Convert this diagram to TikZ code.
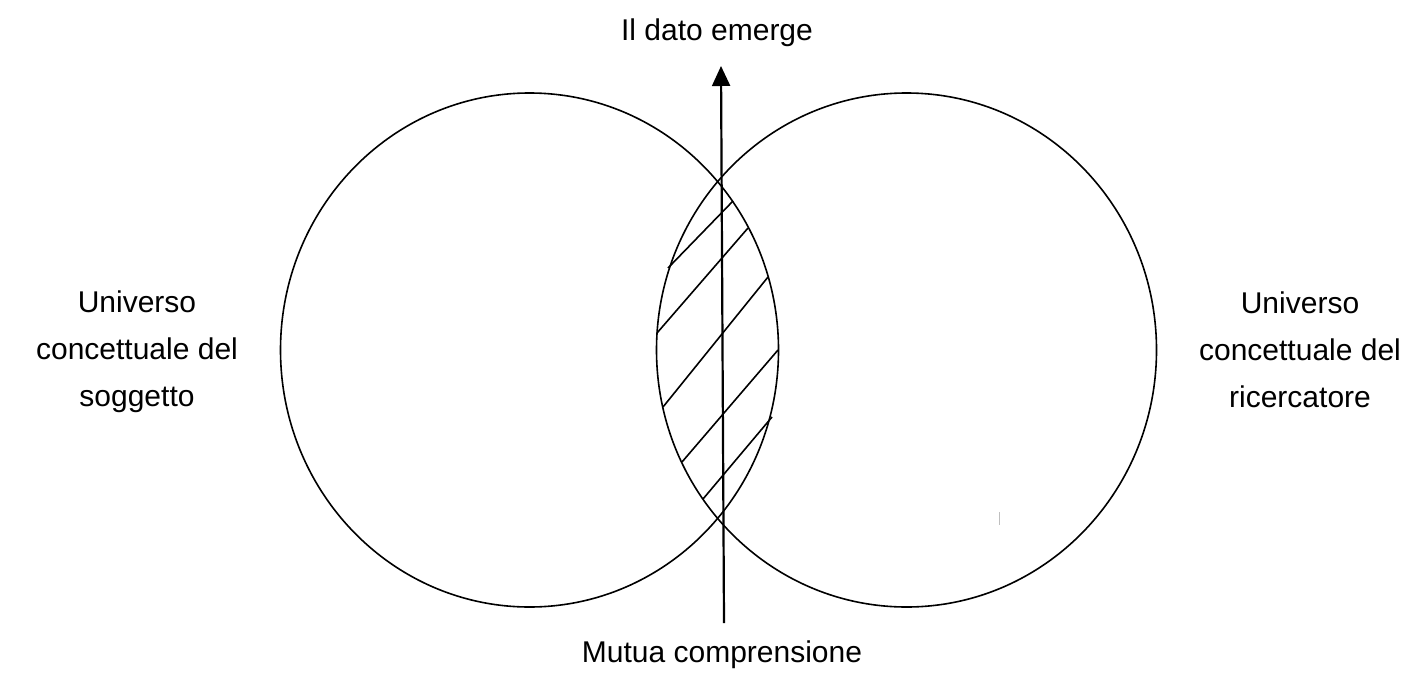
\documentclass[tikz,border=0pt]{standalone}
\usepackage{fontspec}
\setmainfont{Liberation Sans}
\usetikzlibrary{arrows.meta, positioning}

\begin{document}
\begin{tikzpicture}[
  x=1pt, y=-1pt,
  font={\fontsize{30}{47}\selectfont},
  ring/.style={line width=1.6pt},
  hatch/.style={line width=1.6pt},
  lbl/.style={align=center, inner sep=0pt},
  arr/.style={-{Triangle[width=18pt, length=20pt]}, line width=2.2pt}]
\useasboundingbox (0,0) rectangle (1423,672);
% the two conceptual universes
\draw[ring] (529.5,350) ellipse [x radius=249, y radius=257];
\draw[ring] (906.5,350) ellipse [x radius=250, y radius=257];
% hatching of the shared area
\draw[hatch] (668,268) -- (733,201);
\draw[hatch] (657,333) -- (748,228);
\draw[hatch] (663,407) -- (768,277);
\draw[hatch] (682,462) -- (778,350);
\draw[hatch] (703,499) -- (772,417);
% stray mark
\draw[black!25, line width=1pt] (999,512) -- (999,525);
% labels
\node[lbl] (soggetto) at (137,352) {Universo\\concettuale del\\soggetto};
\node[lbl] (ricercatore) at (1300,350) {Universo\\concettuale del\\ricercatore};
\node[lbl, anchor=base] (dato) at (717,40) {Il dato emerge};
\node[lbl, anchor=base] (mutua) at (722,662) {Mutua comprensione};
% emergence arrow
\coordinate (base) at (724,623);
\coordinate (tip) at (721,66);
\draw[arr] (base) -- (tip);
\end{tikzpicture}
\end{document}
